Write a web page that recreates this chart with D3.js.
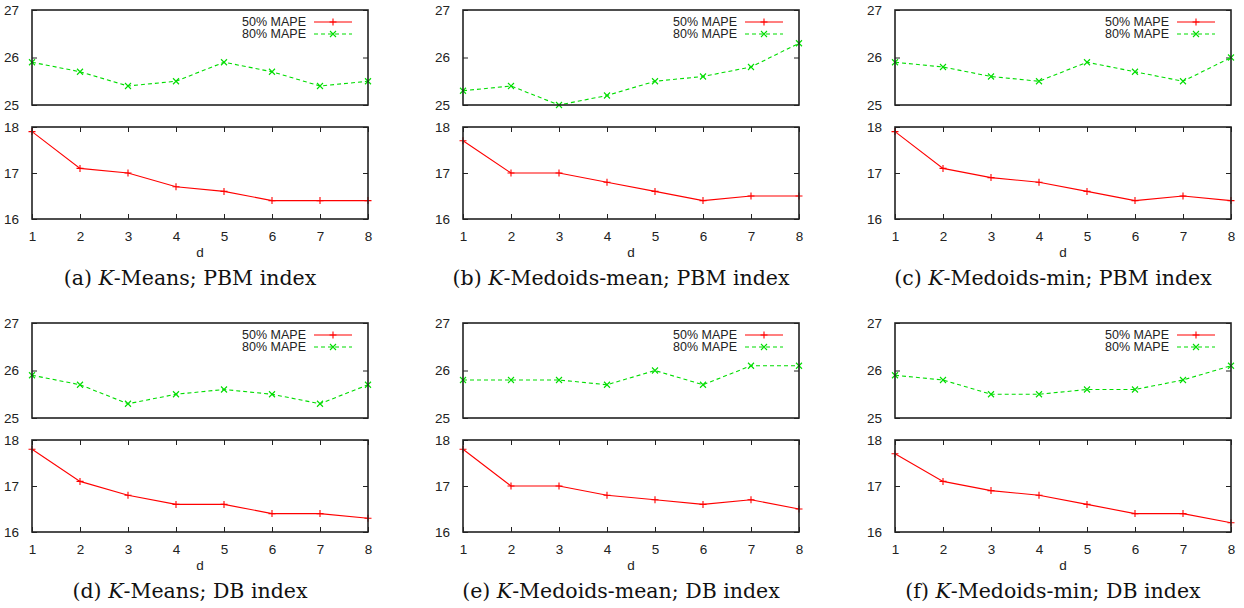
<!DOCTYPE html>
<html lang="en">
<head>
    <meta charset="UTF-8">
    <title>MAPE vs d</title>
    <script src="https://d3js.org/d3.v7.min.js"></script>
    <style>
        body { margin: 0; background: #fff; }
        .tick text { font-family: "Liberation Sans", Arial, sans-serif; font-size: 13.5px; fill: #222; }
        .legend text { font-family: "Liberation Sans", Arial, sans-serif; font-size: 12.5px; fill: #222; }
        .caption { font-family: "DejaVu Serif", serif; font-size: 20.5px; fill: #111; }
    </style>
</head>
<body>
<svg width="1244" height="608"></svg>

<script>
    // x values (d)
    var dValues = [1, 2, 3, 4, 5, 6, 7, 8];

    // 50% MAPE series (lower plots)
    var kmeansPbm50 = [17.9, 17.1, 17.0, 16.7, 16.6, 16.4, 16.4, 16.4];
    var medMeanPbm50 = [17.7, 17.0, 17.0, 16.8, 16.6, 16.4, 16.5, 16.5];
    var medMinPbm50 = [17.9, 17.1, 16.9, 16.8, 16.6, 16.4, 16.5, 16.4];
    var kmeansDb50 = [17.8, 17.1, 16.8, 16.6, 16.6, 16.4, 16.4, 16.3];
    var medMeanDb50 = [17.8, 17.0, 17.0, 16.8, 16.7, 16.6, 16.7, 16.5];
    var medMinDb50 = [17.7, 17.1, 16.9, 16.8, 16.6, 16.4, 16.4, 16.2];

    // 80% MAPE series (upper plots)
    var kmeansPbm80 = [25.9, 25.7, 25.4, 25.5, 25.9, 25.7, 25.4, 25.5];
    var medMeanPbm80 = [25.3, 25.4, 25.0, 25.2, 25.5, 25.6, 25.8, 26.3];
    var medMinPbm80 = [25.9, 25.8, 25.6, 25.5, 25.9, 25.7, 25.5, 26.0];
    var kmeansDb80 = [25.9, 25.7, 25.3, 25.5, 25.6, 25.5, 25.3, 25.7];
    var medMeanDb80 = [25.8, 25.8, 25.8, 25.7, 26.0, 25.7, 26.1, 26.1];
    var medMinDb80 = [25.9, 25.8, 25.5, 25.5, 25.6, 25.6, 25.8, 26.1];

    var topTicks = [25, 26, 27];
    var bottomTicks = [16, 17, 18];
    var seriesNames = ["50% MAPE", "80% MAPE"];

    var panels = [
        {tag: "(a) ", algo: "-Means; PBM index", s50: kmeansPbm50, s80: kmeansPbm80},
        {tag: "(b) ", algo: "-Medoids-mean; PBM index", s50: medMeanPbm50, s80: medMeanPbm80},
        {tag: "(c) ", algo: "-Medoids-min; PBM index", s50: medMinPbm50, s80: medMinPbm80},
        {tag: "(d) ", algo: "-Means; DB index", s50: kmeansDb50, s80: kmeansDb80},
        {tag: "(e) ", algo: "-Medoids-mean; DB index", s50: medMeanDb50, s80: medMeanDb80},
        {tag: "(f) ", algo: "-Medoids-min; DB index", s50: medMinDb50, s80: medMinDb80}
    ];

    var svg = d3.select("svg");
    var colX = [32, 463, 895],
        rowY = [10, 323],
        width = 336,
        topH = 95,
        gap = 22,
        botH = 92;

    var red = "#ff0000", green = "#00dd00";
    var intFmt = d3.format("d");

    var x = d3.scaleLinear().domain([1, 8]).range([0, width]);
    var yTop = d3.scaleLinear().domain([25, 27]).range([topH, 0]);
    var yBot = d3.scaleLinear().domain([16, 18]).range([botH, 0]);

    function plusPath(px, py) {
        var s = 3.5;
        return "M" + (px - s) + "," + py + "H" + (px + s) + "M" + px + "," + (py - s) + "V" + (py + s);
    }
    function crossPath(px, py) {
        var s = 3;
        return "M" + (px - s) + "," + (py - s) + "L" + (px + s) + "," + (py + s) +
            "M" + (px - s) + "," + (py + s) + "L" + (px + s) + "," + (py - s);
    }

    function drawBox(g, h) {
        g.append("rect")
            .attr("width", width)
            .attr("height", h)
            .attr("fill", "none")
            .attr("stroke", "#222")
            .attr("stroke-width", 1.6);
    }

    function drawSeries(g, values, y, color, dashed, marker) {
        var line = d3.line()
            .x(function(d, i) { return x(dValues[i]); })
            .y(function(d) { return y(d); });
        g.append("path")
            .datum(values)
            .attr("d", line)
            .attr("fill", "none")
            .attr("stroke", color)
            .attr("stroke-width", 1.1)
            .attr("stroke-dasharray", dashed ? "4,3" : null);
        g.selectAll(".pt")
            .data(values)
            .enter().append("path")
            .attr("d", function(d, i) { return marker(x(dValues[i]), y(d)); })
            .attr("stroke", color)
            .attr("stroke-width", 1.1)
            .attr("fill", "none");
    }

    function yAxes(g, y, ticks) {
        var left = g.append("g")
            .call(d3.axisLeft(y).tickValues(ticks).tickFormat(intFmt).tickSize(-5).tickSizeOuter(0).tickPadding(13));
        left.select(".domain").remove();
        left.selectAll(".tick line").attr("stroke", "#222");
        var right = g.append("g")
            .attr("transform", "translate(" + width + ",0)")
            .call(d3.axisRight(y).tickValues(ticks).tickSize(-5).tickSizeOuter(0).tickFormat(""));
        right.select(".domain").remove();
        right.selectAll(".tick line").attr("stroke", "#222");
    }

    panels.forEach(function(p, k) {
        var ox = colX[k % 3], oy = rowY[Math.floor(k / 3)];
        var panel = svg.append("g").attr("transform", "translate(" + ox + "," + oy + ")");

        // upper plot: 80% MAPE
        var up = panel.append("g");
        yAxes(up, yTop, topTicks);
        drawSeries(up, p.s80, yTop, green, true, crossPath);
        drawBox(up, topH);

        // legend
        var lg = up.append("g").attr("class", "legend");
        [[red, false, plusPath], [green, true, crossPath]].forEach(function(s, i) {
            var ly = 12 + i * 12;
            lg.append("text")
                .attr("x", width - 62)
                .attr("y", ly)
                .attr("dy", "0.35em")
                .attr("text-anchor", "end")
                .text(seriesNames[i]);
            lg.append("line")
                .attr("x1", width - 54).attr("x2", width - 16)
                .attr("y1", ly).attr("y2", ly)
                .attr("stroke", s[0])
                .attr("stroke-width", 1.1)
                .attr("stroke-dasharray", s[1] ? "4,3" : null);
            lg.append("path")
                .attr("d", s[2](width - 35, ly))
                .attr("stroke", s[0])
                .attr("stroke-width", 1.1);
        });

        // lower plot: 50% MAPE
        var low = panel.append("g").attr("transform", "translate(0," + (topH + gap) + ")");
        yAxes(low, yBot, bottomTicks);
        var xb = low.append("g")
            .attr("transform", "translate(0," + botH + ")")
            .call(d3.axisBottom(x).tickValues(dValues).tickFormat(intFmt).tickSize(-5).tickSizeOuter(0).tickPadding(12));
        xb.select(".domain").remove();
        xb.selectAll(".tick line").attr("stroke", "#222");
        var xt = low.append("g")
            .call(d3.axisTop(x).tickValues(dValues).tickSize(-5).tickSizeOuter(0).tickFormat(""));
        xt.select(".domain").remove();
        xt.selectAll(".tick line").attr("stroke", "#222");
        drawSeries(low, p.s50, yBot, red, false, plusPath);
        drawBox(low, botH);

        low.append("text")
            .attr("x", width / 2)
            .attr("y", botH + 38)
            .attr("text-anchor", "middle")
            .style("font-family", "Liberation Sans, Arial, sans-serif")
            .style("font-size", "13.5px")
            .attr("fill", "#222")
            .text("d");

        var cap = low.append("text")
            .attr("class", "caption")
            .attr("x", width / 2 - 10)
            .attr("y", botH + 66)
            .attr("text-anchor", "middle");
        cap.append("tspan").text(p.tag);
        cap.append("tspan").attr("font-style", "italic").text("K");
        cap.append("tspan").text(p.algo);
    });
</script>
</body>
</html>
